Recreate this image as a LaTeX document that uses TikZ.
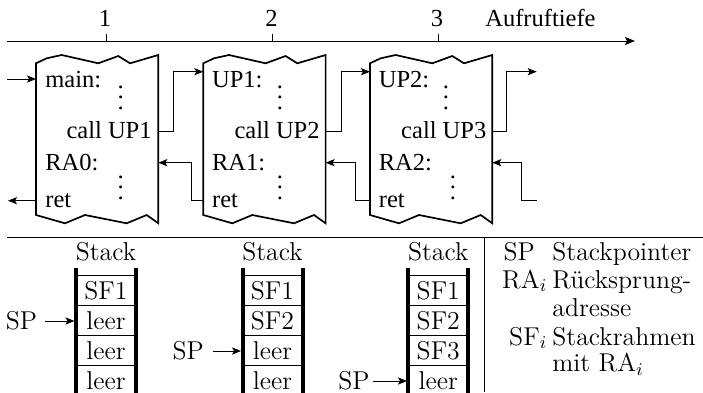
\documentclass[tikz,border=0pt]{standalone}
\usepackage{fontspec}
\newfontfamily\tms{Liberation Serif}
\usetikzlibrary{arrows.meta}
\newcommand\myvd{\vbox{\baselineskip=5.25pt\lineskiplimit=0pt\hbox{.}\hbox{.}\hbox{.}}}
\newcommand\wbox[1]{%
 \draw[boxline] (#1,215) -- (#1,63.3) -- ++(10.7,-5) -- ++(15,-3.3) -- ++(36.6,8.3) -- ++(20,-7.3) -- ++(11.7,7.3) -- ++(28.3,-8.3)
   -- (#1+122.3,223.3) -- ++(-11.6,-8.3) -- ++(-20,8.3) -- ++(-41.7,-8.3) -- ++(-20,8.3) -- cycle;}
\begin{document}
\begin{tikzpicture}[x=0.5pt,y=-0.5pt,
  boxline/.style={line width=0.85pt, line join=miter},
  conn/.style={line width=0.5pt},
  arr/.style={-{Stealth[length=4.5pt,width=3.6pt,inset=1pt]}},
  tt/.style={font=\tms\fontsize{12.25}{14}\selectfont, inner sep=0pt},
  lm/.style={font=\fontsize{12.9}{14.25}\selectfont, inner sep=0pt},
  bar/.style={line width=2pt},
  cell/.style={line width=0.4pt},
]
\useasboundingbox (0,0) rectangle (703,392);
\clip (0,0) rectangle (703,392);

% axis
\coordinate (axs) at (7,41);
\coordinate (axe) at (635,41);
\draw[conn,-{Stealth[length=5pt,width=4pt,inset=1pt]}] (axs) -- (axe);
\foreach \x/\t [count=\i] in {106/1,272.5/2,438/3}{
  \coordinate (tk\i) at (\x,41);
  \draw[conn] (tk\i) -- ++(0,-7);
  \node[tt,anchor=base] (lab\i) at (\x-1,26) {\t};
}
\node[tt,anchor=base west] (auf) at (485,26) {Aufruftiefe};

% boxes
\wbox{36}
\wbox{203.3}
\wbox{370}

% box texts
\node[tt,anchor=base west] (m1) at (45,87) {main:};
\node[tt,anchor=base] (d1a) at (120.7,109) {\myvd};
\node[tt,anchor=base east] (c1) at (152,138.3) {call UP1};
\node[tt,anchor=base west] (r1) at (45,170) {RA0:};
\node[tt,anchor=base] (d1b) at (120.7,199) {\myvd};
\node[tt,anchor=base west] (t1) at (45,207) {ret};

\node[tt,anchor=base west] (m2) at (211.7,87) {UP1:};
\node[tt,anchor=base] (d2a) at (280,109) {\myvd};
\node[tt,anchor=base east] (c2) at (320,138.3) {call UP2};
\node[tt,anchor=base west] (r2) at (211.7,170) {RA1:};
\node[tt,anchor=base] (d2b) at (280,199) {\myvd};
\node[tt,anchor=base west] (t2) at (211.7,207) {ret};

\node[tt,anchor=base west] (m3) at (378.5,87) {UP2:};
\node[tt,anchor=base] (d3a) at (446,109) {\myvd};
\node[tt,anchor=base east] (c3) at (486.7,138.3) {call UP3};
\node[tt,anchor=base west] (r3) at (378.5,170) {RA2:};
\node[tt,anchor=base] (d3b) at (453,199) {\myvd};
\node[tt,anchor=base west] (t3) at (378.5,207) {ret};

% connector points
\coordinate (in0) at (7,79);
\coordinate (b1in) at (36,79);
\coordinate (b1retout) at (36,200.7);
\coordinate (out0) at (8,200.7);
\coordinate (b1call) at (158.3,131.7);
\coordinate (b1ret) at (158.3,162.7);
\coordinate (b2in) at (203.3,71.7);
\coordinate (b2retout) at (203.3,200.7);
\coordinate (b2call) at (325.6,131.7);
\coordinate (b2ret) at (325.6,162.7);
\coordinate (b3in) at (370,71.7);
\coordinate (b3retout) at (370,200.7);
\coordinate (b3call) at (492.3,131.7);
\coordinate (b3ret) at (492.3,162.7);
\coordinate (b4in) at (536.7,71.7);
\coordinate (b4retout) at (536.7,200.7);

\draw[conn,arr] (in0) -- (b1in);
\draw[conn,arr] (b1retout) -- (out0);
\draw[conn,arr] (b1call) -- ++(14.7,0) |- (b2in);
\draw[conn,arr] (b2retout) -- ++(-12,0) |- (b1ret);
\draw[conn,arr] (b2call) -- ++(15.4,0) |- (b3in);
\draw[conn,arr] (b3retout) -- ++(-15,0) |- (b2ret);
\draw[conn,arr] (b3call) -- ++(14.4,0) |- (b4in);
\draw[conn,arr] (b4retout) -- ++(-15,0) |- (b3ret);

% separators
\coordinate (hs) at (7,237.3);
\coordinate (he) at (703,237.3);
\draw[conn] (hs) -- (he);
\coordinate (vs) at (484,237.3);
\coordinate (ve) at (484,392);
\draw[conn] (vs) -- (ve);

% stacks
\foreach \c/\a/\b/\cc/\d [count=\s] in {106/SF1/leer/leer/leer, 272.5/SF1/SF2/leer/leer, 438.3/SF1/SF2/SF3/leer}{
  \node[lm,anchor=base] (st\s) at (\c,260.7) {Stack};
  \draw[bar] (\c-30,268.3) -- (\c-30,395);
  \draw[bar] (\c+30,268.3) -- (\c+30,395);
  \foreach \k/\txt in {0/\a,1/\b,2/\cc,3/\d}{
    \draw[cell] (\c-29,275.7+30*\k) rectangle (\c+29,305.7+30*\k);
    \node[lm,anchor=base] (cl\s\k) at (\c,299+30*\k) {\txt};
  }
}
% SP pointers
\node[lm,anchor=base] (sp1) at (21.5,329) {SP};
\coordinate (sp1a) at (45,321);
\coordinate (sp1b) at (74.5,321);
\draw[conn,arr] (sp1a) -- (sp1b);
\node[lm,anchor=base] (sp2) at (188.3,359) {SP};
\coordinate (sp2a) at (213,351);
\coordinate (sp2b) at (241,351);
\draw[conn,arr] (sp2a) -- (sp2b);
\node[lm,anchor=base] (sp3) at (354,389) {SP};
\coordinate (sp3a) at (373,381);
\coordinate (sp3b) at (407,381);
\draw[conn,arr] (sp3a) -- (sp3b);

% legend
\node[lm,anchor=base west] (lgsp) at (503.3,260) {SP};
\node[lm,anchor=base west] (lgspt) at (552,260) {Stackpointer};
\node[lm,anchor=base east] (lgra) at (547.5,288.3) {RA$_i$};
\node[lm,anchor=base west] (lgrat) at (552,288.3) {Rücksprung-};
\node[lm,anchor=base west] (lgrat2) at (552,316.7) {adresse};
\node[lm,anchor=base east] (lgsf) at (547.5,345) {SF$_i$};
\node[lm,anchor=base west] (lgsft) at (552,345) {Stackrahmen};
\node[lm,anchor=base west] (lgsft2) at (552,371.7) {mit RA$_i$};
\end{tikzpicture}
\end{document}
